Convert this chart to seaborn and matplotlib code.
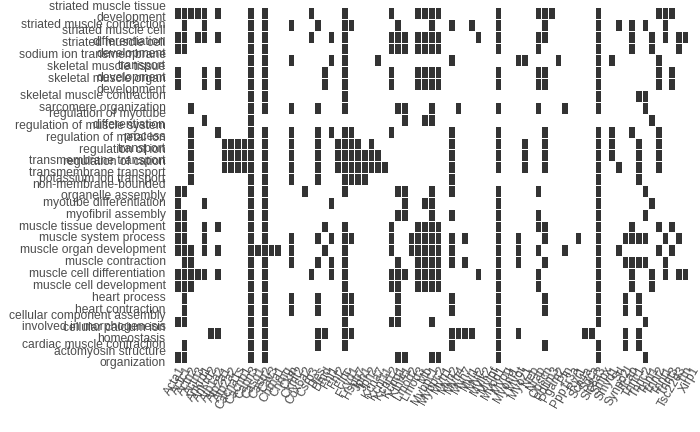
import textwrap
import numpy as np
import pandas as pd
import matplotlib
matplotlib.use('Agg')
import matplotlib.pyplot as plt
from matplotlib.colors import ListedColormap
import seaborn as sns

sns.set_style('white')
plt.rcParams['font.family'] = ['Liberation Sans', 'DejaVu Sans']

# genes on the x axis (alphabetical)
genes = ['Acta1', 'Actc1', 'Actn2', 'Actn3', 'Ankrd1', 'Ankrd2', 'Atp1a2', 'Atp2a1',
         'Atp2a2', 'Cacna1s', 'Cacnb1', 'Capn3', 'Casq1', 'Casq2', 'Cav3', 'Chrna1',
         'Chrng', 'Ckm', 'Ckmt2', 'Cox6a2', 'Csrp3', 'Des', 'Dmd', 'Fhl1', 'Fhl2',
         'Flnc', 'Fxyd1', 'Hspb7', 'Jph1', 'Jph2', 'Kcna7', 'Kcnj11', 'Kcnj12',
         'Kcnq1', 'Klhl41', 'Lmod2', 'Lmod3', 'Mb', 'Mybpc1', 'Mybpc2', 'Myh1',
         'Myh2', 'Myh4', 'Myh7', 'Myl1', 'Myl2', 'Mylk2', 'Mylpf', 'Myod1', 'Myog',
         'Myom1', 'Myot', 'Myoz1', 'Neb', 'Nrap', 'Obscn', 'Pdlim3', 'Pgam2', 'Pln',
         'Ppp1r3a', 'Ryr1', 'Scn4a', 'Sgca', 'Slc8a3', 'Smpx', 'Smyd1', 'Srl',
         'Synpo2l', 'Tcap', 'Tnnc1', 'Tnnc2', 'Tnni1', 'Tnni2', 'Tnnt1', 'Tnnt3',
         'Tsc22d3', 'Ttn', 'Xirp1']

# GO terms, top to bottom
terms = ['striated muscle tissue development', 'striated muscle contraction',
         'striated muscle cell differentiation', 'striated muscle cell development',
         'sodium ion transmembrane transport', 'skeletal muscle tissue development',
         'skeletal muscle organ development', 'skeletal muscle contraction',
         'sarcomere organization', 'regulation of myotube differentiation',
         'regulation of muscle system process', 'regulation of metal ion transport',
         'regulation of ion transmembrane transport',
         'regulation of cation transmembrane transport', 'potassium ion transport',
         'non-membrane-bounded organelle assembly', 'myotube differentiation',
         'myofibril assembly', 'muscle tissue development', 'muscle system process',
         'muscle organ development', 'muscle contraction',
         'muscle cell differentiation', 'muscle cell development', 'heart process',
         'heart contraction', 'cellular component assembly involved in morphogenesis',
         'cellular calcium ion homeostasis', 'cardiac muscle contraction',
         'actomyosin structure organization']

# indices of genes annotated to each term (same order as terms)
hits = [
    [0, 1, 2, 3, 4, 6, 11, 13, 20, 25, 32, 36, 37, 38, 39, 48, 54, 55, 56, 63, 72, 73, 74],
    [1, 4, 11, 13, 17, 21, 25, 26, 33, 38, 41, 44, 48, 55, 63, 66, 68, 70, 73],
    [0, 1, 3, 4, 6, 11, 13, 20, 23, 25, 32, 33, 34, 36, 37, 38, 39, 45, 48, 54, 55, 63, 68, 71, 73, 75, 76],
    [0, 1, 11, 13, 25, 32, 33, 34, 36, 37, 38, 39, 48, 54, 63, 68, 71, 75],
    [11, 13, 17, 23, 25, 30, 41, 51, 52, 57, 63, 65, 72],
    [0, 4, 6, 11, 13, 22, 25, 32, 36, 37, 38, 39, 48, 54, 55, 63, 72, 74],
    [0, 4, 6, 11, 13, 22, 25, 32, 36, 37, 38, 39, 48, 54, 55, 63, 72, 74],
    [11, 13, 25, 63, 69, 70],
    [2, 11, 13, 17, 21, 25, 33, 34, 38, 42, 48, 54, 58, 63, 70],
    [4, 11, 34, 37, 38, 71],
    [2, 6, 11, 13, 17, 21, 23, 25, 26, 32, 41, 48, 55, 63, 65, 68, 72],
    [2, 7, 8, 9, 10, 11, 13, 17, 21, 24, 25, 26, 27, 29, 41, 48, 52, 55, 63, 65, 69, 72],
    [2, 7, 8, 9, 10, 11, 13, 17, 21, 24, 25, 26, 27, 28, 29, 30, 41, 48, 52, 55, 63, 65, 69, 72],
    [2, 7, 8, 9, 10, 11, 13, 17, 21, 24, 25, 26, 27, 28, 29, 30, 31, 41, 48, 52, 55, 63, 66, 69, 72],
    [2, 11, 13, 17, 21, 25, 26, 27, 28, 41, 63, 69],
    [0, 1, 11, 13, 19, 25, 33, 34, 38, 41, 48, 54, 63, 70],
    [0, 4, 11, 13, 23, 34, 37, 38, 48, 63, 71],
    [0, 1, 11, 13, 33, 34, 38, 41, 48, 54, 63, 70],
    [0, 1, 4, 6, 11, 13, 22, 25, 32, 36, 37, 38, 39, 48, 54, 55, 63, 68, 72, 74],
    [0, 1, 4, 11, 13, 17, 21, 23, 25, 26, 32, 35, 36, 37, 38, 39, 41, 43, 48, 51, 55, 60, 63, 67, 68, 69, 70, 73, 75],
    [0, 1, 2, 4, 6, 11, 12, 13, 14, 15, 17, 22, 25, 32, 35, 36, 37, 38, 39, 41, 48, 51, 54, 58, 63, 66, 72, 74],
    [1, 2, 11, 13, 17, 21, 23, 25, 33, 36, 37, 38, 39, 41, 43, 48, 51, 55, 63, 67, 68, 69, 70, 73],
    [0, 1, 2, 3, 4, 6, 11, 13, 20, 23, 25, 32, 33, 34, 36, 37, 38, 39, 45, 48, 54, 63, 68, 71, 73, 75, 76],
    [0, 1, 2, 11, 13, 25, 32, 33, 36, 37, 38, 39, 48, 54, 63, 68, 71],
    [1, 11, 13, 17, 21, 25, 26, 33, 41, 48, 55, 63, 67, 69],
    [1, 11, 13, 17, 21, 25, 26, 33, 41, 48, 55, 63, 67, 69],
    [0, 1, 11, 13, 25, 32, 33, 38, 48, 63, 70],
    [5, 6, 11, 13, 21, 22, 25, 26, 41, 42, 43, 44, 48, 51, 61, 62, 67, 69],
    [1, 11, 13, 21, 25, 41, 48, 55, 63, 67, 69],
    [0, 1, 11, 13, 33, 34, 38, 39, 48, 63, 70],
]

# build the 0/1 membership table
mat = np.zeros((len(terms), len(genes)), dtype=int)
for i, idx in enumerate(hits):
    mat[i, idx] = 1
df = pd.DataFrame(mat, index=[textwrap.fill(t, 27) for t in terms], columns=genes)

fig = plt.figure(figsize=(7, 4.32), dpi=100)
ax = fig.add_axes([174 / 700, 1 - 363 / 432, 521 / 700, 356 / 432])

sns.heatmap(df, ax=ax, cmap=ListedColormap(['white', '#333333']), cbar=False,
            linewidths=0.6, linecolor='white', xticklabels=True, yticklabels=True)

ax.tick_params(axis='both', length=0, colors='#4d4d4d', labelsize=8.7)
ax.tick_params(axis='y', pad=6)
ax.tick_params(axis='x', pad=1)
ax.set_xlabel('')
ax.set_ylabel('')
for lab in ax.get_yticklabels():
    lab.set_linespacing(0.9)
    lab.set_horizontalalignment('right')
    lab.set_multialignment('right')
plt.setp(ax.get_xticklabels(), rotation=60, ha='right', rotation_mode='anchor')

fig.savefig('out.png', dpi=100)
